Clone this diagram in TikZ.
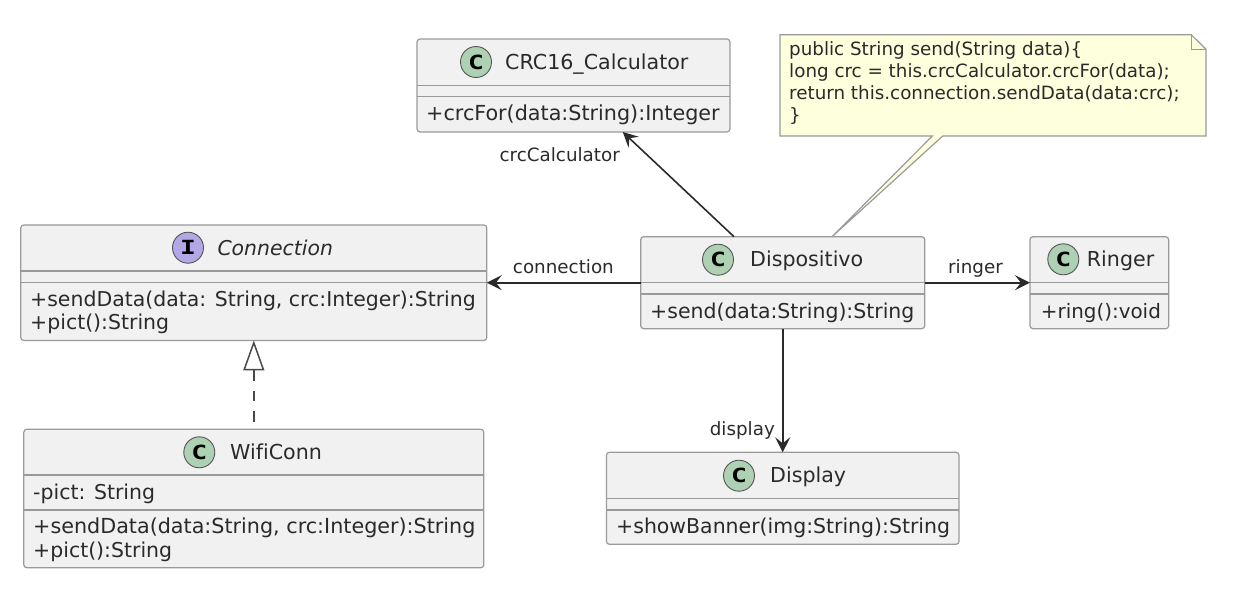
\documentclass[tikz,border=0pt]{standalone}
\usepackage{fontspec}
\setmainfont[Ligatures=NoCommon]{DejaVu Sans}
\setmonofont{DejaVu Sans Mono}
\usetikzlibrary{arrows.meta}
\definecolor{boxfill}{HTML}{F1F1F1}
\definecolor{boxline}{HTML}{9A9A9A}
\definecolor{notefill}{HTML}{FEFFDD}
\definecolor{spotgreen}{HTML}{ADD1B2}
\definecolor{spotpurple}{HTML}{B4A7E5}
\definecolor{inkdark}{HTML}{2A2A2A}
\newcommand{\spotletter}[1]{\scalebox{1.35}[1]{#1}}
\tikzset{
  classbox/.style={draw=boxline,fill=boxfill,line width=1.2pt,rounded corners=3pt,inner sep=0pt,outer sep=0pt},
  sepline/.style={draw=boxline,line width=1.2pt},
  spot/.style={circle,draw=inkdark!80,line width=0.9pt,minimum size=31pt,inner sep=0pt,font=\fontsize{19.5}{19.5}\selectfont\ttfamily\bfseries,text=black},
  title/.style={anchor=base west,inner sep=0pt,text=inkdark,font=\fontsize{20.6}{24}\selectfont},
  member/.style={anchor=base west,inner sep=0pt,text=inkdark,font=\fontsize{20.45}{24}\selectfont},
  linklabel/.style={anchor=base east,inner sep=0pt,text=inkdark,font=\fontsize{18.3}{22}\selectfont},
  link/.style={draw=inkdark,line width=1.6pt,-{Stealth[length=15pt,width=15pt,inset=6pt]}},
}
\begin{document}
\begin{tikzpicture}[x=1pt,y=-1pt]
  \useasboundingbox (0,0) rectangle (1246,589);
  % class boxes
  \node[classbox,minimum width=313pt,minimum height=93pt] (crc) at (573.5,85.5) {};
  \node[classbox,minimum width=466pt,minimum height=115.5pt] (connection) at (253.8,282.7) {};
  \node[classbox,minimum width=460pt,minimum height=138.5pt] (wifi) at (253.8,498.5) {};
  \node[classbox,minimum width=284pt,minimum height=92pt] (dispositivo) at (782.7,282.7) {};
  \node[classbox,minimum width=138.7pt,minimum height=92pt] (ringer) at (1099.3,282.7) {};
  \node[classbox,minimum width=352.6pt,minimum height=92pt] (display) at (782.7,498.3) {};
  % separators
  \draw[sepline] (crc.west |- 0,85.3) -- (crc.east |- 0,85.3);
  \draw[sepline] (crc.west |- 0,96.7) -- (crc.east |- 0,96.7);
  \draw[sepline] (connection.west |- 0,271) -- (connection.east |- 0,271);
  \draw[sepline] (connection.west |- 0,282.3) -- (connection.east |- 0,282.3);
  \draw[sepline] (wifi.west |- 0,475) -- (wifi.east |- 0,475);
  \draw[sepline] (wifi.west |- 0,510) -- (wifi.east |- 0,510);
  \draw[sepline] (dispositivo.west |- 0,282.7) -- (dispositivo.east |- 0,282.7);
  \draw[sepline] (dispositivo.west |- 0,294) -- (dispositivo.east |- 0,294);
  \draw[sepline] (ringer.west |- 0,282.7) -- (ringer.east |- 0,282.7);
  \draw[sepline] (ringer.west |- 0,294) -- (ringer.east |- 0,294);
  \draw[sepline] (display.west |- 0,498.3) -- (display.east |- 0,498.3);
  \draw[sepline] (display.west |- 0,510) -- (display.east |- 0,510);
  % spots
  \node[spot,fill=spotgreen] (crcspot) at (476,62) {\spotletter{C}};
  \node[spot,fill=spotpurple] (connectionspot) at (188,247.7) {\spotletter{I}};
  \node[spot,fill=spotgreen] (wifispot) at (199.3,452.3) {\spotletter{C}};
  \node[spot,fill=spotgreen] (dispositivospot) at (718,259.7) {\spotletter{C}};
  \node[spot,fill=spotgreen] (ringerspot) at (1063.3,259.3) {\spotletter{C}};
  \node[spot,fill=spotgreen] (displayspot) at (739,475.7) {\spotletter{C}};
  % titles
  \node[title] (crctitle) at (505,69) {CRC16\_Calculator};
  \node[title,font=\fontsize{20.4}{24}\selectfont\itshape] (connectiontitle) at (217.3,255) {Connection};
  \node[title] (wifititle) at (230,459.5) {WifiConn};
  \node[title] (dispositivotitle) at (750,266) {Dispositivo};
  \node[title] (ringertitle) at (1086.7,266) {Ringer};
  \node[title] (displaytitle) at (770,482) {Display};
  % members
  \node[member,font=\fontsize{20.7}{24}\selectfont] (crcfor) at (426,120) {+crcFor(data:String):Integer};
  \node[member] (connectionsend) at (30,306) {+sendData(data: String, crc:Integer):String};
  \node[member] (connectionpict) at (30,329) {+pict():String};
  \node[member] (wififield) at (33,499) {-pict: String};
  \node[member,font=\fontsize{20.7}{24}\selectfont] (wifisend) at (33,533) {+sendData(data:String, crc:Integer):String};
  \node[member] (wifipict) at (33,557.5) {+pict():String};
  \node[member] (dispositivosend) at (650,318) {+send(data:String):String};
  \node[member,font=\fontsize{19.9}{24}\selectfont] (ringerring) at (1040.7,318) {+ring():void};
  \node[member] (displayshow) at (616,533) {+showBanner(img:String):String};
  % note
  \coordinate (tailtip) at (832,236.7);
  \draw[draw=boxline,fill=notefill,line width=1.2pt] (780,34.7) -- (1191.3,34.7) -- (1206,49.3) -- (1206,136)
    -- (942.7,136) -- (tailtip) -- (932.3,136) -- (780,136) -- cycle;
  \draw[draw=boxline,line width=1.2pt] (1191.3,34.7) -- (1191.3,49.3) -- (1206,49.3);
  \node[anchor=north west,inner sep=0pt,align=left,text=inkdark,font=\fontsize{18.3}{22}\selectfont] (notetext) at (789,41.5)
    {public String send(String data)\{\\long crc = this.crcCalculator.crcFor(data);\\return this.connection.sendData(data:crc);\\\}};
  % links
  \draw[link] (dispositivo) -- (crc);
  \draw[link] (dispositivo) -- (connection);
  \draw[link] (dispositivo) -- (ringer);
  \draw[link] (dispositivo) -- (display);
  \draw[draw=inkdark!85,line width=1.5pt,dash pattern=on 10.5pt off 10pt,dash phase=12.9pt,-{Triangle[open,length=30pt,width=21pt,fill=white]}] (wifi) -- (connection);
  % link labels
  \node[linklabel] (crclabel) at (620,161) {crcCalculator};
  \node[linklabel] (connectionlabel) at (614,273) {connection};
  \node[linklabel] (ringerlabel) at (1003,273) {ringer};
  \node[linklabel] (displaylabel) at (775,435) {display};
\end{tikzpicture}
\end{document}
